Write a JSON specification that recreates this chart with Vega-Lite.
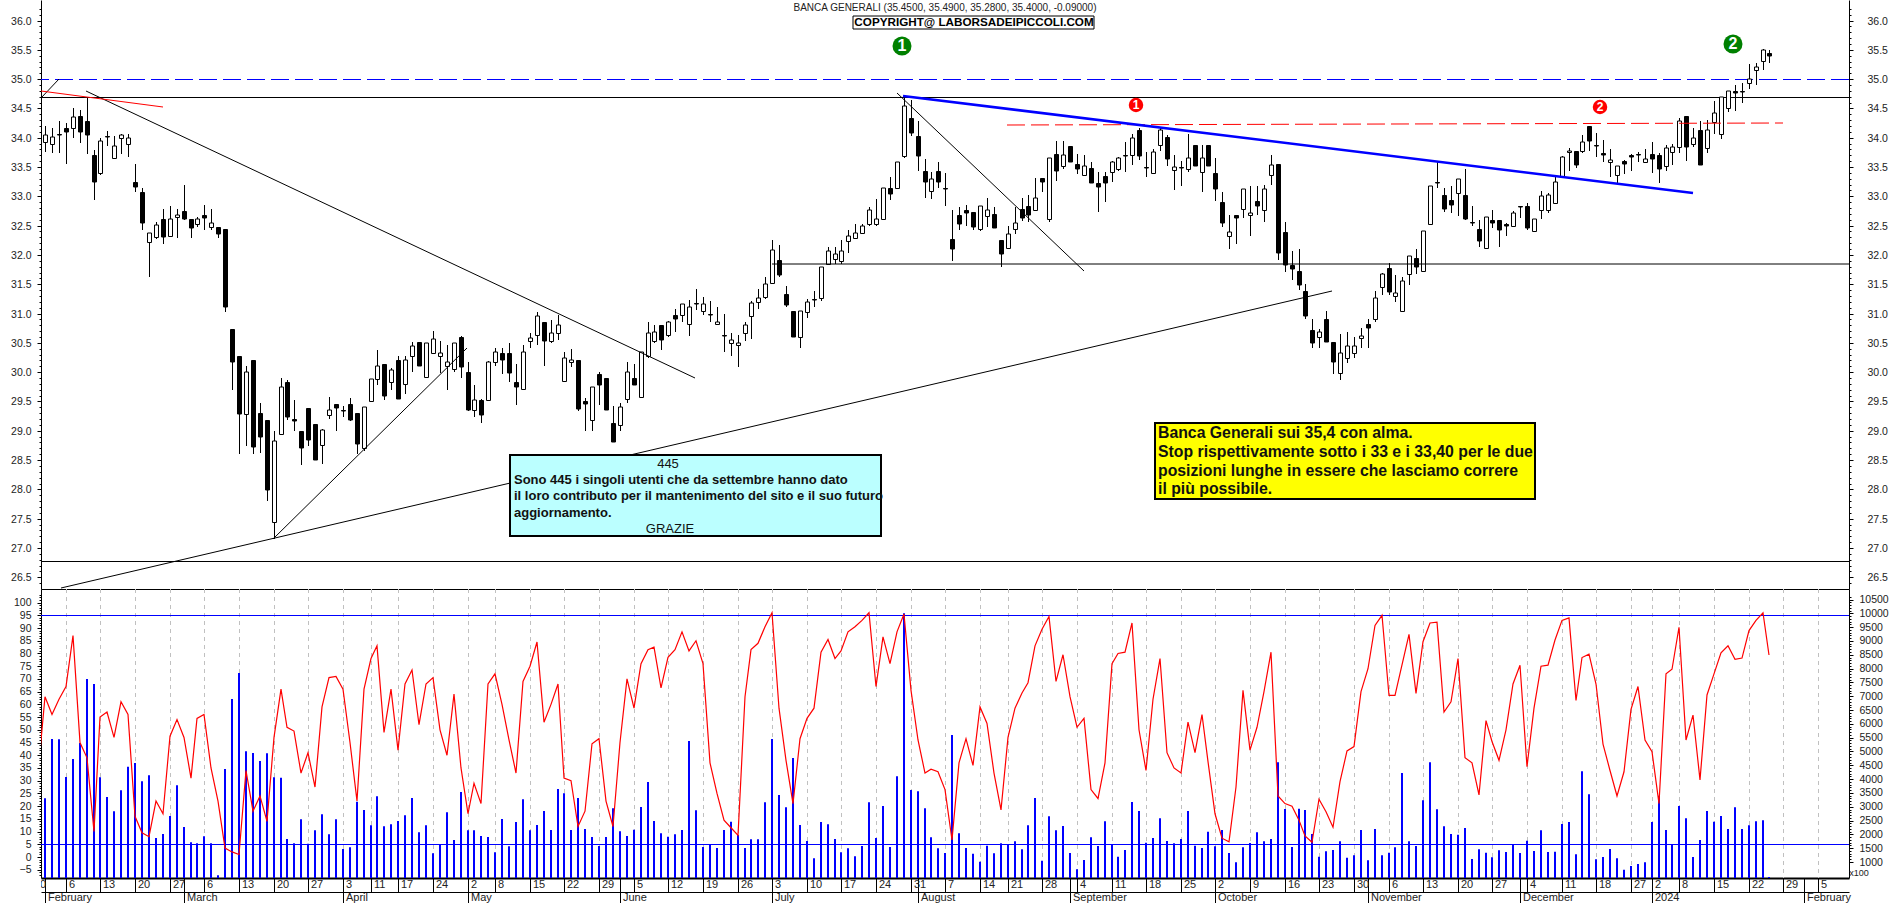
{"$schema":"https://vega.github.io/schema/vega-lite/v6.json","background":"white","padding":0,"spacing":0,"bounds":"flush","align":"each",
"config":{"view":{"stroke":null},"text":{"font":"Liberation Sans"},"axis":{"labelFont":"Liberation Sans","labelFontSize":10.5,"labelColor":"#222222","domainColor":"black","tickColor":"black","grid":false,"title":null,"labelOverlap":false}},
"datasets":{
"bars":[{"i":-1,"k":33},
{"i":0,"o":33.92,"h":34.2,"l":33.76,"c":34.05,"k":63,"v":3303},{"i":1,"o":33.9,"h":34.16,"l":33.74,"c":34.02,"k":56,"v":5450},{"i":2,"o":34.07,"h":34.28,"l":33.74,"c":34.05,"k":62,"v":5438},{"i":3,"o":34.16,"h":34.25,"l":33.56,"c":34.09,"k":67,"v":4075},{"i":4,"o":34.17,"h":34.51,"l":33.99,"c":34.35,"k":87,"v":4727},{"i":5,"o":34.37,"h":34.48,"l":33.91,"c":34.09,"k":45,"v":5306},{"i":6,"o":34.29,"h":34.69,"l":33.73,"c":34.04,"k":39,"v":7622},{"i":7,"o":33.71,"h":33.79,"l":32.93,"c":33.24,"k":10,"v":7440},{"i":8,"o":33.39,"h":33.99,"l":33.37,"c":33.95,"k":55,"v":4063},{"i":9,"o":34.03,"h":34.12,"l":33.86,"c":34.01,"k":57,"v":3352},
{"i":10,"o":33.66,"h":34.03,"l":33.66,"c":33.86,"k":47,"v":2834},{"i":11,"o":33.99,"h":34.07,"l":33.73,"c":34.05,"k":61,"v":3594},{"i":12,"o":33.9,"h":34.07,"l":33.67,"c":33.99,"k":56,"v":4450},{"i":13,"o":33.24,"h":33.55,"l":33.07,"c":33.16,"k":16,"v":4583},{"i":14,"o":33.08,"h":33.15,"l":32.43,"c":32.55,"k":9.5,"v":3920},{"i":15,"o":32.22,"h":32.37,"l":31.63,"c":32.37,"k":8,"v":4136},{"i":16,"o":32.31,"h":32.56,"l":32.27,"c":32.51,"k":22,"v":1868},{"i":17,"o":32.62,"h":32.78,"l":32.19,"c":32.31,"k":17,"v":2013},{"i":18,"o":32.33,"h":32.84,"l":32.3,"c":32.62,"k":47.5,"v":2665},{"i":19,"o":32.65,"h":32.79,"l":32.29,"c":32.69,"k":54,"v":3774},
{"i":20,"o":32.75,"h":33.2,"l":32.6,"c":32.62,"k":47,"v":2266},{"i":21,"o":32.62,"h":32.62,"l":32.29,"c":32.46,"k":31,"v":1712},{"i":22,"o":32.52,"h":32.65,"l":32.48,"c":32.62,"k":54.5,"v":1676},{"i":23,"o":32.69,"h":32.86,"l":32.42,"c":32.63,"k":56,"v":1930},{"i":24,"o":32.48,"h":32.78,"l":32.43,"c":32.54,"k":35,"v":1676},{"i":25,"o":32.47,"h":32.48,"l":32.29,"c":32.35,"k":22,"v":520},{"i":26,"o":32.44,"h":32.44,"l":31.03,"c":31.11,"k":3.5,"v":4366},{"i":27,"o":30.73,"h":30.74,"l":29.7,"c":30.18,"k":2,"v":6898},{"i":28,"o":30.27,"h":30.27,"l":28.6,"c":29.29,"k":1,"v":7839},{"i":29,"o":29.29,"h":30.1,"l":28.74,"c":30.0,"k":34,"v":5005},
{"i":30,"o":30.2,"h":30.21,"l":28.61,"c":28.73,"k":18,"v":4945},{"i":31,"o":29.3,"h":29.48,"l":28.62,"c":28.9,"k":24,"v":4655},{"i":32,"o":29.19,"h":29.19,"l":27.8,"c":27.99,"k":14,"v":4933},{"i":33,"o":27.44,"h":29.0,"l":27.15,"c":28.82,"k":47,"v":4063},{"i":34,"o":28.94,"h":29.9,"l":28.94,"c":29.75,"k":66,"v":4052},{"i":35,"o":29.84,"h":29.86,"l":29.18,"c":29.23,"k":51,"v":1833},{"i":36,"o":29.2,"h":29.53,"l":29.0,"c":29.17,"k":49.5,"v":1676},{"i":37,"o":28.99,"h":28.99,"l":28.42,"c":28.71,"k":33,"v":2545},{"i":38,"o":29.39,"h":29.39,"l":28.74,"c":28.84,"k":41,"v":1664},{"i":39,"o":29.12,"h":29.12,"l":28.5,"c":28.5,"k":27.5,"v":2147},
{"i":40,"o":28.76,"h":29.03,"l":28.43,"c":29.01,"k":59,"v":2726},{"i":41,"o":29.27,"h":29.58,"l":29.2,"c":29.35,"k":70.5,"v":2002},{"i":42,"o":29.46,"h":29.46,"l":29.0,"c":29.38,"k":71,"v":2545},{"i":43,"o":29.36,"h":29.43,"l":29.23,"c":29.34,"k":66,"v":1471},{"i":44,"o":29.45,"h":29.56,"l":29.16,"c":29.18,"k":45,"v":1532},{"i":45,"o":29.31,"h":29.31,"l":28.61,"c":28.78,"k":22,"v":3184},{"i":46,"o":28.71,"h":29.41,"l":28.65,"c":29.41,"k":66,"v":2882},{"i":47,"o":29.5,"h":29.88,"l":29.5,"c":29.88,"k":78,"v":2328},{"i":48,"o":29.88,"h":30.37,"l":29.78,"c":30.11,"k":83,"v":3377},{"i":49,"o":30.14,"h":30.14,"l":29.52,"c":29.6,"k":49,"v":2292},
{"i":50,"o":29.83,"h":30.07,"l":29.7,"c":30.03,"k":66,"v":2364},{"i":51,"o":30.2,"h":30.27,"l":29.55,"c":29.55,"k":42,"v":2484},{"i":52,"o":29.8,"h":30.27,"l":29.62,"c":30.2,"k":68,"v":2689},{"i":53,"o":30.27,"h":30.52,"l":30.0,"c":30.45,"k":73.5,"v":3316},{"i":54,"o":30.52,"h":30.52,"l":30.11,"c":30.11,"k":52,"v":2074},{"i":55,"o":29.92,"h":30.49,"l":29.92,"c":30.49,"k":68,"v":2328},{"i":56,"o":30.33,"h":30.7,"l":30.33,"c":30.56,"k":70.5,"v":1315},{"i":57,"o":30.27,"h":30.54,"l":29.98,"c":30.33,"k":50,"v":1640},{"i":58,"o":30.11,"h":30.47,"l":29.7,"c":30.18,"k":40,"v":2798},{"i":59,"o":30.06,"h":30.5,"l":30.01,"c":30.5,"k":64,"v":1797},
{"i":60,"o":30.6,"h":30.61,"l":29.9,"c":30.09,"k":35,"v":3534},{"i":61,"o":30.0,"h":30.18,"l":29.34,"c":29.35,"k":17,"v":2147},{"i":62,"o":29.35,"h":29.78,"l":29.23,"c":29.53,"k":29,"v":2147},{"i":63,"o":29.53,"h":29.55,"l":29.13,"c":29.27,"k":21,"v":1941},{"i":64,"o":29.52,"h":30.19,"l":29.51,"c":30.17,"k":68,"v":1905},{"i":65,"o":30.18,"h":30.42,"l":30.11,"c":30.35,"k":72,"v":1350},{"i":66,"o":30.33,"h":30.42,"l":29.97,"c":30.21,"k":60,"v":2556},{"i":67,"o":30.33,"h":30.5,"l":29.83,"c":29.98,"k":46,"v":1568},{"i":68,"o":29.84,"h":30.14,"l":29.44,"c":29.74,"k":33,"v":2448},{"i":69,"o":29.71,"h":30.47,"l":29.71,"c":30.35,"k":69,"v":3268},
{"i":70,"o":30.54,"h":30.67,"l":30.42,"c":30.58,"k":75,"v":2147},{"i":71,"o":30.64,"h":31.02,"l":30.46,"c":30.95,"k":84.5,"v":2340},{"i":72,"o":30.86,"h":30.86,"l":30.1,"c":30.54,"k":53,"v":2846},{"i":73,"o":30.54,"h":30.89,"l":30.5,"c":30.66,"k":60,"v":2159},{"i":74,"o":30.66,"h":30.98,"l":30.55,"c":30.81,"k":68,"v":3642},{"i":75,"o":29.85,"h":30.35,"l":29.84,"c":30.24,"k":31,"v":3485},{"i":76,"o":30.18,"h":30.39,"l":30.09,"c":30.21,"k":30,"v":2159},{"i":77,"o":30.2,"h":30.2,"l":29.34,"c":29.37,"k":12,"v":3316},{"i":78,"o":29.5,"h":29.56,"l":29.0,"c":29.46,"k":18,"v":2195},{"i":79,"o":29.18,"h":29.75,"l":29.0,"c":29.75,"k":44.5,"v":1905},
{"i":80,"o":29.96,"h":30.01,"l":29.44,"c":29.78,"k":46.5,"v":1580},{"i":81,"o":29.9,"h":29.9,"l":29.36,"c":29.36,"k":22,"v":1905},{"i":82,"o":29.14,"h":29.42,"l":28.8,"c":28.8,"k":12,"v":2943},{"i":83,"o":29.1,"h":29.47,"l":29.0,"c":29.41,"k":45,"v":2111},{"i":84,"o":29.54,"h":30.17,"l":29.48,"c":30.0,"k":70,"v":1941},{"i":85,"o":29.9,"h":30.14,"l":29.78,"c":29.78,"k":58.5,"v":2170},{"i":86,"o":29.57,"h":30.34,"l":29.57,"c":30.34,"k":76,"v":2990},{"i":87,"o":30.27,"h":30.86,"l":30.24,"c":30.66,"k":81.5,"v":3895},{"i":88,"o":30.54,"h":30.8,"l":30.49,"c":30.69,"k":82.5,"v":2484},{"i":89,"o":30.8,"h":30.8,"l":30.37,"c":30.55,"k":66.5,"v":2038},
{"i":90,"o":30.63,"h":30.88,"l":30.6,"c":30.85,"k":78.5,"v":1917},{"i":91,"o":30.98,"h":31.07,"l":30.68,"c":30.91,"k":81.5,"v":2002},{"i":92,"o":30.97,"h":31.16,"l":30.85,"c":31.16,"k":88.5,"v":2159},{"i":93,"o":30.82,"h":31.23,"l":30.61,"c":31.12,"k":81,"v":5378},{"i":94,"o":31.18,"h":31.42,"l":31.06,"c":31.17,"k":85,"v":2870},{"i":95,"o":31.04,"h":31.29,"l":30.98,"c":31.17,"k":76,"v":1544},{"i":96,"o":30.99,"h":31.22,"l":30.86,"c":30.97,"k":37,"v":1616},{"i":97,"o":30.82,"h":31.12,"l":30.8,"c":30.86,"k":25,"v":1508},{"i":98,"o":30.63,"h":30.99,"l":30.35,"c":30.62,"k":14.5,"v":2159},{"i":99,"o":30.5,"h":30.67,"l":30.27,"c":30.55,"k":11.5,"v":2460},
{"i":100,"o":30.46,"h":30.63,"l":30.09,"c":30.49,"k":8.5,"v":1977},{"i":101,"o":30.66,"h":30.86,"l":30.54,"c":30.81,"k":63,"v":1508},{"i":102,"o":30.95,"h":31.22,"l":30.57,"c":31.18,"k":81.5,"v":1821},{"i":103,"o":31.19,"h":31.42,"l":31.07,"c":31.26,"k":84,"v":1821},{"i":104,"o":31.28,"h":31.63,"l":31.24,"c":31.51,"k":90.5,"v":3159},{"i":105,"o":31.52,"h":32.25,"l":31.5,"c":32.09,"k":96,"v":5450},{"i":106,"o":31.92,"h":32.17,"l":31.63,"c":31.65,"k":58.5,"v":3425},{"i":107,"o":31.33,"h":31.47,"l":31.12,"c":31.15,"k":38,"v":2979},{"i":108,"o":31.04,"h":31.04,"l":30.6,"c":30.6,"k":21,"v":4764},{"i":109,"o":30.6,"h":31.04,"l":30.42,"c":31.04,"k":46.5,"v":2340},
{"i":110,"o":31.03,"h":31.25,"l":30.93,"c":31.19,"k":54.5,"v":1761},{"i":111,"o":31.25,"h":31.38,"l":31.12,"c":31.23,"k":58.5,"v":1134},{"i":112,"o":31.27,"h":31.8,"l":31.22,"c":31.8,"k":80.5,"v":2448},{"i":113,"o":31.84,"h":32.14,"l":31.83,"c":32.06,"k":85.5,"v":2364},{"i":114,"o":31.93,"h":32.14,"l":31.84,"c":32.01,"k":78,"v":1833},{"i":115,"o":31.89,"h":32.25,"l":31.84,"c":32.07,"k":81,"v":1350},{"i":116,"o":32.23,"h":32.43,"l":32.04,"c":32.33,"k":88.5,"v":1496},{"i":117,"o":32.29,"h":32.53,"l":32.27,"c":32.38,"k":90.5,"v":1206},{"i":118,"o":32.37,"h":32.53,"l":32.35,"c":32.5,"k":93,"v":1580},{"i":119,"o":32.53,"h":32.82,"l":32.5,"c":32.76,"k":96,"v":3159},
{"i":120,"o":32.52,"h":32.95,"l":32.5,"c":32.61,"k":67,"v":1868},{"i":121,"o":32.62,"h":33.15,"l":32.61,"c":33.14,"k":86.5,"v":3027},{"i":122,"o":33.14,"h":33.33,"l":32.94,"c":33.04,"k":76,"v":1544},{"i":123,"o":33.14,"h":33.58,"l":33.14,"c":33.58,"k":88.5,"v":4100},{"i":124,"o":33.69,"h":34.72,"l":33.65,"c":34.54,"k":95.5,"v":9998},{"i":125,"o":34.33,"h":34.64,"l":34.03,"c":34.08,"k":65.5,"v":3606},{"i":126,"o":34.03,"h":34.29,"l":33.43,"c":33.69,"k":46,"v":3558},{"i":127,"o":33.43,"h":33.63,"l":32.97,"c":33.25,"k":33,"v":2943},{"i":128,"o":33.09,"h":33.41,"l":32.95,"c":33.29,"k":34.5,"v":1893},{"i":129,"o":33.43,"h":33.58,"l":33.14,"c":33.25,"k":33.5,"v":1496},
{"i":130,"o":33.15,"h":33.4,"l":32.84,"c":33.13,"k":26.5,"v":1327},{"i":131,"o":32.27,"h":32.76,"l":31.9,"c":32.1,"k":6.7,"v":5596},{"i":132,"o":32.69,"h":32.82,"l":32.43,"c":32.53,"k":37,"v":2038},{"i":133,"o":32.76,"h":32.86,"l":32.5,"c":32.71,"k":46.5,"v":1508},{"i":134,"o":32.73,"h":32.73,"l":32.43,"c":32.48,"k":36,"v":1303},{"i":135,"o":32.44,"h":32.84,"l":32.41,"c":32.84,"k":59,"v":1013},{"i":136,"o":32.67,"h":32.97,"l":32.48,"c":32.76,"k":52.5,"v":1592},{"i":137,"o":32.7,"h":32.81,"l":32.46,"c":32.46,"k":33,"v":1315},{"i":138,"o":32.25,"h":32.25,"l":31.79,"c":32.02,"k":18.5,"v":1676},{"i":139,"o":32.12,"h":32.5,"l":32.1,"c":32.35,"k":47,"v":1616},
{"i":140,"o":32.45,"h":32.82,"l":32.35,"c":32.55,"k":58.5,"v":1749},{"i":141,"o":32.78,"h":32.97,"l":32.58,"c":32.63,"k":64.5,"v":1460},{"i":142,"o":32.84,"h":33.02,"l":32.57,"c":32.69,"k":68.5,"v":2328},{"i":143,"o":32.76,"h":33.32,"l":32.75,"c":32.98,"k":83,"v":3316},{"i":144,"o":33.32,"h":33.32,"l":33.07,"c":33.25,"k":89.5,"v":1049},{"i":145,"o":32.62,"h":33.65,"l":32.57,"c":33.65,"k":94.5,"v":2653},{"i":146,"o":33.73,"h":33.95,"l":33.27,"c":33.44,"k":69,"v":2147},{"i":147,"o":33.51,"h":33.95,"l":33.47,"c":33.71,"k":79.5,"v":2304},{"i":148,"o":33.86,"h":33.86,"l":33.58,"c":33.58,"k":63,"v":1327},{"i":149,"o":33.55,"h":33.73,"l":33.38,"c":33.47,"k":51,"v":736},
{"i":150,"o":33.36,"h":33.71,"l":33.35,"c":33.51,"k":54.5,"v":1073},{"i":151,"o":33.48,"h":33.58,"l":33.23,"c":33.23,"k":26.5,"v":1893},{"i":152,"o":33.23,"h":33.41,"l":32.73,"c":33.16,"k":23,"v":1580},{"i":153,"o":33.34,"h":33.41,"l":32.91,"c":33.22,"k":37,"v":2472},{"i":154,"o":33.42,"h":33.61,"l":33.24,"c":33.58,"k":76,"v":1652},{"i":155,"o":33.46,"h":33.67,"l":33.43,"c":33.66,"k":80,"v":1194},{"i":156,"o":33.71,"h":33.92,"l":33.42,"c":33.69,"k":80.5,"v":1436},{"i":157,"o":33.7,"h":34.07,"l":33.54,"c":33.99,"k":92,"v":3172},{"i":158,"o":34.13,"h":34.16,"l":33.62,"c":33.69,"k":50,"v":2846},{"i":159,"o":33.5,"h":33.75,"l":33.33,"c":33.48,"k":34,"v":1700},
{"i":160,"o":33.39,"h":33.8,"l":33.38,"c":33.76,"k":62,"v":1868},{"i":161,"o":33.88,"h":34.16,"l":33.77,"c":34.14,"k":78,"v":2581},{"i":162,"o":34.01,"h":34.05,"l":33.51,"c":33.63,"k":41,"v":1761},{"i":163,"o":33.45,"h":33.71,"l":33.11,"c":33.5,"k":35,"v":1676},{"i":164,"o":33.5,"h":33.61,"l":33.17,"c":33.48,"k":33,"v":1833},{"i":165,"o":33.46,"h":34.07,"l":33.41,"c":33.65,"k":53,"v":2846},{"i":166,"o":33.87,"h":33.87,"l":33.51,"c":33.52,"k":41,"v":1592},{"i":167,"o":33.41,"h":33.87,"l":33.07,"c":33.65,"k":56,"v":1508},{"i":168,"o":33.87,"h":33.87,"l":33.51,"c":33.51,"k":37.5,"v":2099},{"i":169,"o":33.4,"h":33.66,"l":32.92,"c":33.12,"k":17,"v":1568},
{"i":170,"o":32.9,"h":33.08,"l":32.48,"c":32.54,"k":7.4,"v":2159},{"i":171,"o":32.32,"h":32.68,"l":32.1,"c":32.39,"k":6,"v":1327},{"i":172,"o":32.69,"h":32.69,"l":32.19,"c":32.63,"k":27.5,"v":989},{"i":173,"o":32.78,"h":33.12,"l":32.63,"c":33.12,"k":65.5,"v":1532},{"i":174,"o":32.68,"h":33.17,"l":32.33,"c":32.72,"k":42,"v":1688},{"i":175,"o":32.92,"h":33.17,"l":32.69,"c":32.84,"k":51,"v":2074},{"i":176,"o":32.76,"h":33.2,"l":32.57,"c":33.12,"k":65,"v":1749},{"i":177,"o":33.37,"h":33.71,"l":33.2,"c":33.54,"k":80.5,"v":1833},{"i":178,"o":33.55,"h":33.55,"l":31.91,"c":32.04,"k":24,"v":4607},{"i":179,"o":32.39,"h":32.56,"l":31.71,"c":31.83,"k":21,"v":2918},
{"i":180,"o":31.83,"h":32.07,"l":31.57,"c":31.76,"k":20,"v":1544},{"i":181,"o":31.73,"h":32.1,"l":31.41,"c":31.48,"k":14.5,"v":2930},{"i":182,"o":31.39,"h":31.5,"l":30.9,"c":30.95,"k":8.3,"v":2882},{"i":183,"o":30.72,"h":30.9,"l":30.42,"c":30.5,"k":5.8,"v":2014},{"i":184,"o":30.6,"h":30.74,"l":30.42,"c":30.69,"k":22.7,"v":1194},{"i":185,"o":30.91,"h":31.04,"l":30.52,"c":30.52,"k":17.8,"v":1387},{"i":186,"o":30.52,"h":30.52,"l":29.96,"c":30.18,"k":11.7,"v":1436},{"i":187,"o":29.99,"h":30.65,"l":29.87,"c":30.33,"k":29.6,"v":1749},{"i":188,"o":30.24,"h":30.69,"l":30.16,"c":30.44,"k":41.7,"v":1158},{"i":189,"o":30.32,"h":30.6,"l":30.25,"c":30.45,"k":43.4,"v":1242},
{"i":190,"o":30.58,"h":30.76,"l":30.42,"c":30.62,"k":65,"v":2159},{"i":191,"o":30.83,"h":30.9,"l":30.42,"c":30.75,"k":74,"v":1061},{"i":192,"o":30.9,"h":31.39,"l":30.85,"c":31.27,"k":91,"v":2195},{"i":193,"o":31.46,"h":31.7,"l":31.32,"c":31.68,"k":95,"v":1242},{"i":194,"o":31.78,"h":31.87,"l":31.32,"c":31.37,"k":63.5,"v":1339},{"i":195,"o":31.3,"h":31.65,"l":31.19,"c":31.35,"k":63.5,"v":1532},{"i":196,"o":31.05,"h":31.63,"l":31.05,"c":31.55,"k":75.5,"v":4221},{"i":197,"o":31.67,"h":31.99,"l":31.48,"c":31.99,"k":87.5,"v":1749},{"i":198,"o":31.95,"h":32.1,"l":31.68,"c":31.79,"k":64.3,"v":1580},{"i":199,"o":31.73,"h":32.4,"l":31.72,"c":32.4,"k":84.6,"v":3232},
{"i":200,"o":32.52,"h":33.17,"l":32.52,"c":33.17,"k":92,"v":4607},{"i":201,"o":33.24,"h":33.6,"l":33.15,"c":33.22,"k":92.3,"v":2906},{"i":202,"o":33.03,"h":33.15,"l":32.74,"c":32.79,"k":57,"v":2292},{"i":203,"o":32.93,"h":33.17,"l":32.71,"c":32.85,"k":61,"v":2014},{"i":204,"o":33.05,"h":33.29,"l":32.66,"c":33.29,"k":78,"v":1990},{"i":205,"o":33.02,"h":33.46,"l":32.59,"c":32.61,"k":39,"v":2231},{"i":206,"o":32.57,"h":32.84,"l":32.5,"c":32.55,"k":37,"v":1110},{"i":207,"o":32.45,"h":32.6,"l":32.14,"c":32.24,"k":24.4,"v":1460},{"i":208,"o":32.12,"h":32.65,"l":32.12,"c":32.65,"k":53.6,"v":1339},{"i":209,"o":32.59,"h":32.76,"l":32.46,"c":32.54,"k":45.4,"v":1170},
{"i":210,"o":32.59,"h":32.59,"l":32.14,"c":32.42,"k":38,"v":1423},{"i":211,"o":32.52,"h":32.54,"l":32.33,"c":32.5,"k":50,"v":1363},{"i":212,"o":32.5,"h":32.75,"l":32.48,"c":32.72,"k":68,"v":1616},{"i":213,"o":32.84,"h":32.84,"l":32.63,"c":32.81,"k":75.4,"v":1327},{"i":214,"o":32.84,"h":32.88,"l":32.43,"c":32.46,"k":35.5,"v":1773},{"i":215,"o":32.4,"h":32.62,"l":32.4,"c":32.62,"k":58.5,"v":1399},{"i":216,"o":32.76,"h":33.09,"l":32.62,"c":33.01,"k":75,"v":2147},{"i":217,"o":32.76,"h":33.05,"l":32.71,"c":33.03,"k":75.4,"v":1363},{"i":218,"o":32.89,"h":33.33,"l":32.89,"c":33.24,"k":85.3,"v":1375},{"i":219,"o":33.35,"h":33.69,"l":33.31,"c":33.67,"k":93,"v":2376},
{"i":220,"o":33.75,"h":33.82,"l":33.43,"c":33.78,"k":94,"v":2448},{"i":221,"o":33.78,"h":33.78,"l":33.49,"c":33.54,"k":61.5,"v":1278},{"i":222,"o":33.78,"h":34.05,"l":33.74,"c":33.92,"k":78.4,"v":4281},{"i":223,"o":34.2,"h":34.2,"l":33.77,"c":33.95,"k":79.7,"v":3449},{"i":224,"o":33.88,"h":34.08,"l":33.67,"c":33.86,"k":68,"v":1098},{"i":225,"o":33.74,"h":33.96,"l":33.59,"c":33.71,"k":44.4,"v":1182},{"i":226,"o":33.59,"h":33.8,"l":33.33,"c":33.62,"k":34,"v":1471},{"i":227,"o":33.36,"h":33.51,"l":33.23,"c":33.51,"k":24,"v":1134},{"i":228,"o":33.6,"h":33.62,"l":33.38,"c":33.55,"k":33.5,"v":724},{"i":229,"o":33.71,"h":33.72,"l":33.43,"c":33.67,"k":58,"v":856},
{"i":230,"o":33.72,"h":33.76,"l":33.59,"c":33.7,"k":67,"v":929},{"i":231,"o":33.58,"h":33.8,"l":33.57,"c":33.64,"k":46,"v":989},{"i":232,"o":33.72,"h":33.92,"l":33.4,"c":33.63,"k":41.4,"v":2448},{"i":233,"o":33.71,"h":33.74,"l":33.23,"c":33.47,"k":21,"v":3401},{"i":234,"o":33.52,"h":33.88,"l":33.44,"c":33.82,"k":72,"v":2159},{"i":235,"o":33.75,"h":33.9,"l":33.53,"c":33.85,"k":73.8,"v":1640},{"i":236,"o":33.85,"h":34.33,"l":33.74,"c":34.29,"k":90.3,"v":3027},{"i":237,"o":34.37,"h":34.37,"l":33.61,"c":33.85,"k":46,"v":2581},{"i":238,"o":33.9,"h":34.16,"l":33.84,"c":33.99,"k":55.8,"v":1182},{"i":239,"o":34.13,"h":34.28,"l":33.54,"c":33.54,"k":30.3,"v":1797},
{"i":240,"o":33.82,"h":34.31,"l":33.74,"c":34.14,"k":63.7,"v":2846},{"i":241,"o":34.26,"h":34.62,"l":34.07,"c":34.42,"k":72,"v":2460},{"i":242,"o":34.07,"h":34.69,"l":33.97,"c":34.69,"k":80.3,"v":2665},{"i":243,"o":34.5,"h":34.79,"l":34.44,"c":34.79,"k":83,"v":2195},{"i":244,"o":34.79,"h":34.9,"l":34.46,"c":34.77,"k":77.7,"v":2979},{"i":245,"o":34.79,"h":34.93,"l":34.6,"c":34.78,"k":78.2,"v":2195},{"i":246,"o":34.94,"h":35.26,"l":34.83,"c":35.0,"k":89,"v":2328},{"i":247,"o":35.15,"h":35.27,"l":34.9,"c":35.2,"k":93,"v":2472},{"i":248,"o":35.31,"h":35.51,"l":35.16,"c":35.5,"k":96,"v":2508},{"i":249,"o":35.45,"h":35.49,"l":35.28,"c":35.4,"k":79.4,"v":458}],
"weeks":[{"i":-2,"t":"30"},{"i":3,"t":"6"},{"i":8,"t":"13"},{"i":13,"t":"20"},{"i":18,"t":"27"},{"i":23,"t":"6"},{"i":28,"t":"13"},{"i":33,"t":"20"},{"i":38,"t":"27"},{"i":43,"t":"3"},{"i":47,"t":"11"},{"i":51,"t":"17"},{"i":56,"t":"24"},{"i":61,"t":"2"},{"i":65,"t":"8"},{"i":70,"t":"15"},{"i":75,"t":"22"},{"i":80,"t":"29"},{"i":85,"t":"5"},{"i":90,"t":"12"},{"i":95,"t":"19"},{"i":100,"t":"26"},{"i":105,"t":"3"},{"i":110,"t":"10"},{"i":115,"t":"17"},{"i":120,"t":"24"},{"i":125,"t":"31"},{"i":130,"t":"7"},{"i":135,"t":"14"},{"i":139,"t":"21"},{"i":144,"t":"28"},{"i":149,"t":"4"},{"i":154,"t":"11"},{"i":159,"t":"18"},{"i":164,"t":"25"},{"i":169,"t":"2"},{"i":174,"t":"9"},{"i":179,"t":"16"},{"i":184,"t":"23"},{"i":189,"t":"30"},{"i":194,"t":"6"},{"i":199,"t":"13"},{"i":204,"t":"20"},{"i":209,"t":"27"},{"i":214,"t":"4"},{"i":219,"t":"11"},{"i":224,"t":"18"},{"i":229,"t":"27"},{"i":232,"t":"2"},{"i":236,"t":"8"},{"i":241,"t":"15"},{"i":246,"t":"22"},{"i":251,"t":"29"},{"i":256,"t":"5"}],
"months":[{"i":0,"t":"February"},{"i":20,"t":"March"},{"i":43,"t":"April"},{"i":61,"t":"May"},{"i":83,"t":"June"},{"i":105,"t":"July"},{"i":126,"t":"August"},{"i":148,"t":"September"},{"i":169,"t":"October"},{"i":191,"t":"November"},{"i":213,"t":"December"},{"i":232,"t":"2024"},{"i":254,"t":"February"}],
"trendBlack":[{"i":5.92,"p":34.8,"i2":93.86,"p2":29.9},{"i":-0.58,"p":34.67,"i2":2.03,"p2":35.0},{"i":2.26,"p":26.32,"i2":185.9,"p2":31.38},{"i":32.9,"p":27.16,"i2":60.96,"p2":30.41},{"i":123,"p":34.76,"i2":149.97,"p2":31.73},{"i":105,"p":31.84,"i2":260.49,"p2":31.84}],
"trendRed":[{"i":-0.58,"p":34.8,"i2":16.97,"p2":34.53}],
"trendBlue":[{"i":123.85,"p":34.72,"i2":238,"p2":33.05}],
"dashRed":[{"i":138.95,"p":34.21,"i2":251,"p2":34.25}],
"levelsBlack":[{"p":34.69},{"p":26.78}],
"levelsBlue":[{"p":35}],
"oscLevels":[{"k":95},{"k":5}],
"cyanBox":[{"i":67.1,"i2":120.65,"p":28.59,"p2":27.2}],
"yellowBox":[{"i":160.3,"i2":215.1,"p":29.13,"p2":27.84}],
"copyBox":[{"i":116.66,"i2":151.47,"p":36.08,"p2":35.86}],
"cyanLeft":[{"i":67.7,"p":28.16,"t":"Sono 445 i singoli utenti che da settembre hanno dato"},{"i":67.7,"p":27.88,"t":"il loro contributo per il mantenimento del sito e il suo futuro"},{"i":67.7,"p":27.6,"t":"aggiornamento."}],
"cyanCenter":[{"i":89.9,"p":28.44,"t":"445"},{"i":90.3,"p":27.33,"t":"GRAZIE"}],
"yellowText":[{"i":160.7,"p":28.97,"t":"Banca Generali sui 35,4 con alma."},{"i":160.7,"p":28.64,"t":"Stop rispettivamente sotto i 33 e i 33,40 per le due"},{"i":160.7,"p":28.32,"t":"posizioni lunghe in essere che lasciamo correre"},{"i":160.7,"p":28.0,"t":"il più possibile."}],
"title":[{"i":129.9,"p":36.21,"t":"BANCA GENERALI (35.4500, 35.4900, 35.2800, 35.4000, -0.09000)"}],
"copyright":[{"i":134.07,"p":35.97,"t":"COPYRIGHT@ LABORSADEIPICCOLI.COM"}],
"greenMarks":[{"i":123.75,"p":35.56,"t":"1"},{"i":243.7,"p":35.6,"t":"2"}],
"redMarks":[{"i":157.6,"p":34.56,"t":"1"},{"i":224.6,"p":34.52,"t":"2"}],
"x100":[{"i":262,"v":613,"t":"x100"}]
},
"vconcat":[
{"width":1808,"height":589,
"encoding":{"x":{"field":"i","type":"quantitative","scale":{"domain":[-0.59,260.49],"nice":false,"zero":false,"round":true,"padding":0},"axis":{"orient":"bottom","labels":false,"ticks":false,"domain":true,"domainColor":"black"}},
"y":{"field":"p","type":"quantitative","scale":{"domain":[26.3,36.35],"nice":false,"zero":false,"round":true},"axis":null}},
"resolve":{"axis":{"y":"independent"}},
"layer":[
{"data":{"name":"weeks"},"mark":{"type":"rule","clip":true,"color":"#c0c0c0","strokeDash":[4,4],"strokeWidth":1,"xOffset":0.5},"encoding":{"y":{"datum":null}}},
{"data":{"name":"levelsBlack"},"mark":{"type":"rule","color":"black","strokeWidth":1,"yOffset":0.5},"encoding":{"x":{}}},
{"data":{"name":"levelsBlue"},"mark":{"type":"rule","color":"#0000ff","strokeWidth":1,"strokeDash":[18,6],"yOffset":0.5},"encoding":{"x":{}}},
{"data":{"name":"bars"},"mark":{"type":"rule","color":"black","strokeWidth":1,"xOffset":0.5},"encoding":{"y":{"field":"l","type":"quantitative","axis":{"orient":"left","values":[26.4,26.5,26.6,26.7,26.8,26.9,27,27.1,27.2,27.3,27.4,27.5,27.6,27.7,27.8,27.9,28,28.1,28.2,28.3,28.4,28.5,28.6,28.7,28.8,28.9,29,29.1,29.2,29.3,29.4,29.5,29.6,29.7,29.8,29.9,30,30.1,30.2,30.3,30.4,30.5,30.6,30.7,30.8,30.9,31,31.1,31.2,31.3,31.4,31.5,31.6,31.7,31.8,31.9,32,32.1,32.2,32.3,32.4,32.5,32.6,32.7,32.8,32.9,33,33.1,33.2,33.3,33.4,33.5,33.6,33.7,33.8,33.9,34,34.1,34.2,34.3,34.4,34.5,34.6,34.7,34.8,34.9,35,35.1,35.2,35.3,35.4,35.5,35.6,35.7,35.8,35.9,36,36.1,36.2],"labelExpr":"round(datum.value*10)%5==0?format(datum.value,'.1f'):''","tickSize":{"condition":{"test":"round(datum.value*10)%5==0","value":4},"value":2},"labelPadding":6,"minExtent":41,"maxExtent":41,"domainColor":"black"}},"y2":{"field":"h"}}},
{"data":{"name":"bars"},"mark":{"type":"bar","orient":"vertical","size":4,"stroke":"black","strokeWidth":1,"xOffset":0.5,"yOffset":0.5},"encoding":{"y":{"field":"o","type":"quantitative"},"y2":{"field":"c"},"fill":{"condition":{"test":"datum.c>=datum.o","value":"white"},"value":"black"}}},
{"data":{"name":"trendBlack"},"mark":{"type":"rule","color":"black","strokeWidth":1},"encoding":{"x2":{"field":"i2"},"y2":{"field":"p2"}}},
{"data":{"name":"trendRed"},"mark":{"type":"rule","color":"#ff0000","strokeWidth":1},"encoding":{"x2":{"field":"i2"},"y2":{"field":"p2"}}},
{"data":{"name":"dashRed"},"mark":{"type":"rule","color":"#ff0000","strokeWidth":1,"strokeDash":[18,6]},"encoding":{"x2":{"field":"i2"},"y2":{"field":"p2"}}},
{"data":{"name":"trendBlue"},"mark":{"type":"rule","color":"#0000ff","strokeWidth":2.5},"encoding":{"x2":{"field":"i2"},"y2":{"field":"p2"}}},
{"data":{"name":"cyanBox"},"mark":{"type":"rect","fill":"#bbffff","stroke":"black","strokeWidth":2},"encoding":{"x2":{"field":"i2"},"y2":{"field":"p2"}}},
{"data":{"name":"yellowBox"},"mark":{"type":"rect","fill":"#ffff00","stroke":"black","strokeWidth":2},"encoding":{"x2":{"field":"i2"},"y2":{"field":"p2"}}},
{"data":{"name":"copyBox"},"mark":{"type":"rect","fill":"white","stroke":"black","strokeWidth":1},"encoding":{"x2":{"field":"i2"},"y2":{"field":"p2"}}},
{"data":{"name":"cyanLeft"},"mark":{"type":"text","align":"left","baseline":"middle","fontSize":13,"fontWeight":"bold","color":"#111111"},"encoding":{"text":{"field":"t"}}},
{"data":{"name":"cyanCenter"},"mark":{"type":"text","align":"center","baseline":"middle","fontSize":13,"color":"#111111"},"encoding":{"text":{"field":"t"}}},
{"data":{"name":"yellowText"},"mark":{"type":"text","align":"left","baseline":"middle","fontSize":15.8,"fontWeight":"bold","color":"#111111"},"encoding":{"text":{"field":"t"}}},
{"data":{"name":"title"},"mark":{"type":"text","align":"center","baseline":"middle","fontSize":10,"color":"#222222"},"encoding":{"text":{"field":"t"}}},
{"data":{"name":"copyright"},"mark":{"type":"text","align":"center","baseline":"middle","fontSize":11.7,"fontWeight":"bold","color":"black"},"encoding":{"text":{"field":"t"}}},
{"data":{"name":"greenMarks"},"mark":{"type":"point","shape":"circle","filled":true,"size":361,"color":"#008000","opacity":1},"encoding":{}},
{"data":{"name":"redMarks"},"mark":{"type":"point","shape":"circle","filled":true,"size":210,"color":"#ff0000","opacity":1},"encoding":{}},
{"data":{"name":"greenMarks"},"mark":{"type":"text","align":"center","baseline":"middle","fontSize":16,"fontWeight":"bold","color":"white"},"encoding":{"text":{"field":"t"}}},
{"data":{"name":"redMarks"},"mark":{"type":"text","align":"center","baseline":"middle","fontSize":12,"fontWeight":"bold","color":"white"},"encoding":{"text":{"field":"t"}}},
{"data":{"name":"levelsBlack"},"mark":{"type":"rule","opacity":0},"encoding":{"x":{},"y":{"field":"p","type":"quantitative","axis":{"orient":"right","values":[26.4,26.5,26.6,26.7,26.8,26.9,27,27.1,27.2,27.3,27.4,27.5,27.6,27.7,27.8,27.9,28,28.1,28.2,28.3,28.4,28.5,28.6,28.7,28.8,28.9,29,29.1,29.2,29.3,29.4,29.5,29.6,29.7,29.8,29.9,30,30.1,30.2,30.3,30.4,30.5,30.6,30.7,30.8,30.9,31,31.1,31.2,31.3,31.4,31.5,31.6,31.7,31.8,31.9,32,32.1,32.2,32.3,32.4,32.5,32.6,32.7,32.8,32.9,33,33.1,33.2,33.3,33.4,33.5,33.6,33.7,33.8,33.9,34,34.1,34.2,34.3,34.4,34.5,34.6,34.7,34.8,34.9,35,35.1,35.2,35.3,35.4,35.5,35.6,35.7,35.8,35.9,36,36.1,36.2],"labelExpr":"round(datum.value*10)%5==0?format(datum.value,'.1f'):''","tickSize":{"condition":{"test":"round(datum.value*10)%5==0","value":4},"value":2},"labelPadding":14,"minExtent":41,"maxExtent":41}}}}
]},
{"width":1808,"height":289,
"encoding":{"x":{"field":"i","type":"quantitative","scale":{"domain":[-0.59,260.49],"nice":false,"zero":false,"round":true,"padding":0},"axis":{"orient":"bottom","labels":false,"ticks":false,"domain":true,"domainColor":"black","domainWidth":2}}},
"resolve":{"scale":{"y":"independent"}},
"layer":[
{"data":{"name":"weeks"},"mark":{"type":"rule","clip":true,"color":"#c0c0c0","strokeDash":[4,4],"strokeWidth":1,"xOffset":0.5},"encoding":{}},
{"data":{"name":"bars"},"mark":{"type":"bar","orient":"vertical","size":2,"color":"#0000ff","clip":true},"encoding":{"y":{"field":"v","type":"quantitative","scale":{"domain":[421,10880],"nice":false,"zero":false},"axis":{"orient":"right","values":[1000,1100,1200,1300,1400,1500,1600,1700,1800,1900,2000,2100,2200,2300,2400,2500,2600,2700,2800,2900,3000,3100,3200,3300,3400,3500,3600,3700,3800,3900,4000,4100,4200,4300,4400,4500,4600,4700,4800,4900,5000,5100,5200,5300,5400,5500,5600,5700,5800,5900,6000,6100,6200,6300,6400,6500,6600,6700,6800,6900,7000,7100,7200,7300,7400,7500,7600,7700,7800,7900,8000,8100,8200,8300,8400,8500,8600,8700,8800,8900,9000,9100,9200,9300,9400,9500,9600,9700,9800,9900,10000,10100,10200,10300,10400,10500,10600],"labelExpr":"datum.value%500==0?format(datum.value,'d'):''","tickSize":{"condition":{"test":"datum.value%500==0","value":4},"value":2},"labelPadding":6,"minExtent":41,"maxExtent":41}}}},
{"data":{"name":"oscLevels"},"mark":{"type":"rule","color":"#0000ff","strokeWidth":1,"yOffset":0.5},"encoding":{"x":{},"y":{"field":"k","type":"quantitative","scale":{"domain":[-8.25,105.34],"nice":false,"zero":false,"round":true},"axis":null}}},
{"data":{"name":"bars"},"mark":{"type":"line","color":"#ff0000","strokeWidth":1.2,"clip":true,"interpolate":"linear"},"encoding":{"y":{"field":"k","type":"quantitative","scale":{"domain":[-8.25,105.34],"nice":false,"zero":false},"axis":{"orient":"left","values":[-7,-6,-5,-4,-3,-2,-1,0,1,2,3,4,5,6,7,8,9,10,11,12,13,14,15,16,17,18,19,20,21,22,23,24,25,26,27,28,29,30,31,32,33,34,35,36,37,38,39,40,41,42,43,44,45,46,47,48,49,50,51,52,53,54,55,56,57,58,59,60,61,62,63,64,65,66,67,68,69,70,71,72,73,74,75,76,77,78,79,80,81,82,83,84,85,86,87,88,89,90,91,92,93,94,95,96,97,98,99,100,101,102,103],"labelExpr":"datum.value%5==0&&datum.value<=100?format(datum.value,'d'):''","tickSize":{"condition":{"test":"datum.value%5==0","value":4},"value":2},"labelPadding":6,"minExtent":41,"maxExtent":41}}}},
{"data":{"name":"x100"},"mark":{"type":"text","align":"center","baseline":"middle","fontSize":9,"color":"#222222"},"encoding":{"y":{"field":"v","type":"quantitative","scale":{"domain":[421,10880],"nice":false,"zero":false},"axis":null},"text":{"field":"t"}}}
]},
{"width":1808,"height":14,
"encoding":{"x":{"field":"i","type":"quantitative","scale":{"domain":[-0.59,260.49],"nice":false,"zero":false,"round":true,"padding":0},"axis":{"orient":"bottom","labels":false,"ticks":false,"domain":true,"domainColor":"black","domainWidth":1}}},
"layer":[
{"data":{"name":"weeks"},"mark":{"type":"rule","clip":true,"color":"black","strokeWidth":1,"xOffset":0.5},"encoding":{}},
{"data":{"name":"months"},"mark":{"type":"rule","clip":true,"color":"black","strokeWidth":1,"xOffset":0.5},"encoding":{}},
{"data":{"name":"weeks"},"mark":{"type":"text","clip":true,"align":"left","baseline":"middle","dx":3,"fontSize":11,"color":"#222222"},"encoding":{"text":{"field":"t"}}}
]},
{"width":1808,"height":11,
"encoding":{"x":{"field":"i","type":"quantitative","scale":{"domain":[-0.59,260.49],"nice":false,"zero":false,"round":true,"padding":0},"axis":null}},
"layer":[
{"data":{"name":"months"},"mark":{"type":"rule","color":"black","strokeWidth":1,"xOffset":0.5},"encoding":{}},
{"data":{"name":"months"},"mark":{"type":"text","align":"left","baseline":"middle","dx":3,"fontSize":11,"color":"#222222"},"encoding":{"text":{"field":"t"}}}
]}
]}
